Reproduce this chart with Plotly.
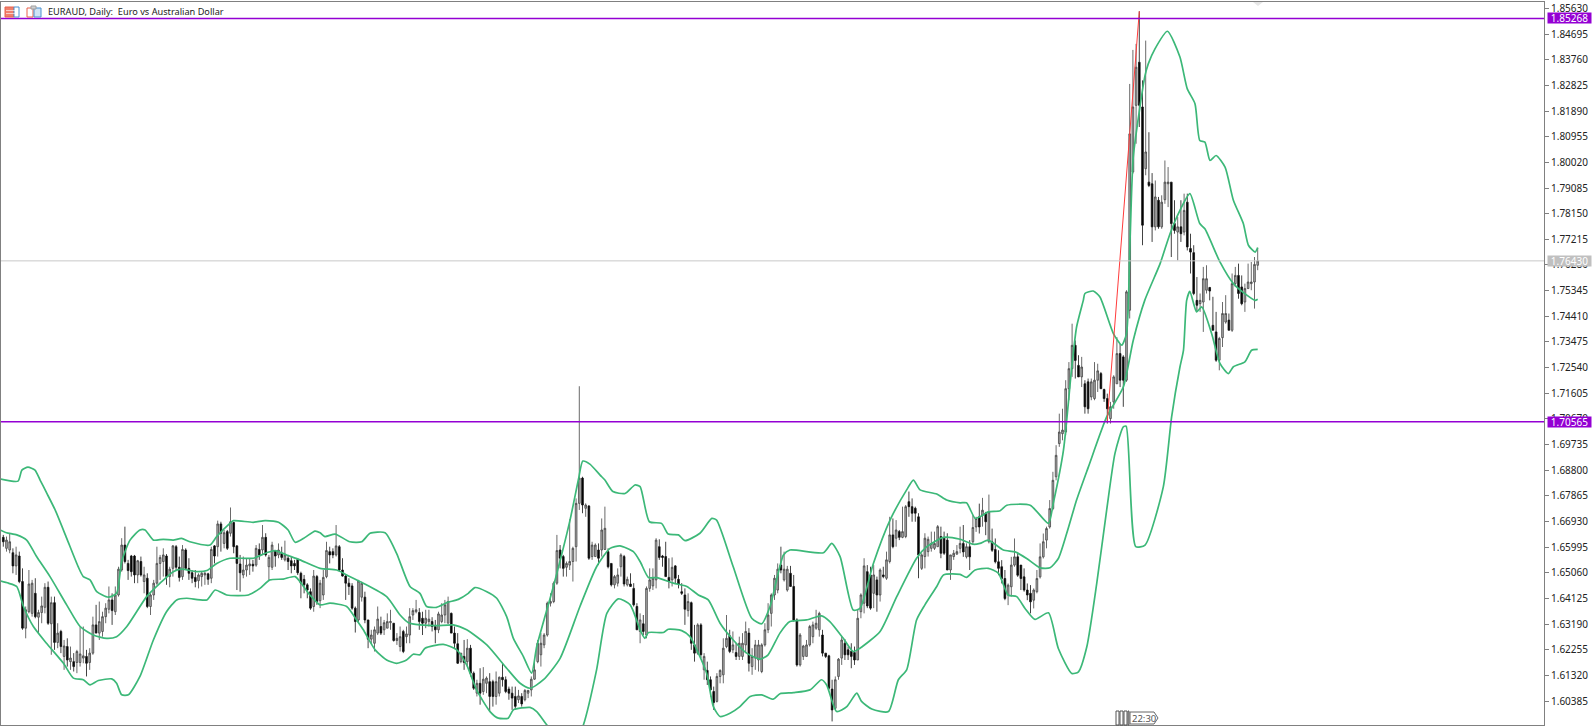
import plotly.graph_objects as go

# EURAUD daily bars, oldest first
open_ = [
    1.6635,1.6595,1.6589,1.6579,1.6531,1.6567,1.6474,1.6304,1.6364,1.6358,
    1.6431,1.6344,1.6361,1.6380,1.6453,1.6320,1.6397,1.6252,1.6292,1.6201,
    1.6237,1.6182,1.6182,1.6179,1.6179,1.6195,1.6201,1.6179,1.6213,1.6316,
    1.6286,1.6292,1.6346,1.6373,1.6407,1.6364,1.6425,1.6516,1.6607,1.6540,
    1.6567,1.6567,1.6498,1.6547,1.6474,1.6486,1.6383,1.6425,1.6468,1.6540,
    1.6547,1.6567,1.6492,1.6522,1.6601,1.6526,1.6492,1.6589,1.6522,1.6506,
    1.6489,1.6477,1.6492,1.6498,1.6502,1.6486,1.6604,1.6601,1.6684,1.6613,
    1.6656,1.6650,1.6689,1.6604,1.6538,1.6498,1.6516,1.6531,1.6537,1.6534,
    1.6591,1.6589,1.6635,1.6528,1.6526,1.6587,1.6571,1.6577,1.6553,1.6559,
    1.6550,1.6540,1.6555,1.6504,1.6482,1.6462,1.6437,1.6383,1.6492,1.6404,
    1.6425,1.6492,1.6583,1.6583,1.6571,1.6601,1.6516,1.6494,1.6468,1.6458,
    1.6377,1.6334,1.6417,1.6417,1.6334,1.6264,1.6249,1.6286,1.6310,1.6298,
    1.6304,1.6324,1.6322,1.6259,1.6237,1.6292,1.6273,1.6279,1.6352,1.6364,
    1.6361,1.6340,1.6322,1.6328,1.6328,1.6310,1.6298,1.6328,1.6352,1.6322,
    1.6358,1.6286,1.6247,1.6182,1.6201,1.6182,1.6231,1.6140,1.6067,1.6103,
    1.6073,1.6103,1.6109,1.6109,1.6055,1.6067,1.6125,1.6116,1.6082,1.6067,
    1.6055,1.6043,1.6055,1.6043,1.6067,1.6079,1.6118,1.6182,1.6207,1.6243,
    1.6279,1.6395,1.6401,1.6468,1.6589,1.6565,1.6526,1.6534,1.6547,1.6601,
    1.6759,1.6851,1.6741,1.6749,1.6565,1.6565,1.6589,1.6589,1.6591,1.6583,
    1.6540,1.6462,1.6468,1.6528,1.6565,1.6462,1.6465,1.6449,1.6383,1.6292,
    1.6320,1.6279,1.6449,1.6458,1.6480,1.6601,1.6567,1.6565,1.6489,1.6480,
    1.6531,1.6482,1.6437,1.6425,1.6368,1.6397,1.6243,1.6213,1.6316,1.6152,
    1.6150,1.6116,1.6073,1.6037,1.6128,1.6134,1.6237,1.6276,1.6225,1.6215,
    1.6201,1.6201,1.6243,1.6286,1.6164,1.6195,1.6188,1.6146,1.6243,1.6298,
    1.6358,1.6425,1.6443,1.6534,1.6480,1.6443,1.6504,1.6456,1.6334,1.6170,
    1.6201,1.6201,1.6243,1.6273,1.6304,1.6298,1.6279,1.6213,1.6203,1.6082,
    1.6012,1.6128,1.6195,1.6249,1.6225,1.6219,1.6215,1.6188,1.6364,1.6395,
    1.6510,1.6498,1.6431,1.6480,1.6425,1.6498,1.6486,1.6547,1.6644,1.6632,
    1.6656,1.6635,1.6638,1.6765,1.6747,1.6741,1.6710,1.6522,1.6565,1.6583,
    1.6595,1.6595,1.6601,1.6638,1.6632,1.6625,1.6516,1.6565,1.6574,1.6595,
    1.6613,1.6564,1.6601,1.6619,1.6673,1.6710,1.6716,1.6722,1.6619,1.6619,
    1.6591,1.6546,1.6528,1.6485,1.6425,1.6455,1.6534,1.6564,1.6534,1.6491,
    1.6443,1.6431,1.6406,1.6437,1.6491,1.6564,1.6625,1.6673,1.6740,1.6856,
    1.6977,1.7013,1.7019,1.7177,1.7250,1.7335,1.7262,1.7220,1.7195,1.7202,
    1.7147,1.7141,1.7208,1.7232,1.7174,1.7141,1.7068,1.7129,1.7195,1.7305,
    1.7293,1.7208,1.7463,1.7967,1.8210,1.8367,1.8204,1.7979,1.7930,1.7924,
    1.7767,1.7864,1.7767,1.7866,1.7924,1.7930,1.7779,1.7748,1.7767,1.7748,
    1.7857,1.7688,1.7673,1.7499,1.7487,1.7493,1.7536,1.7546,1.7408,1.7384,
    1.7281,1.7363,1.7420,1.7427,1.7390,1.7560,1.7590,1.7548,1.7493,1.7542,
    1.7560,1.7566,1.7627,
]
high = [
    1.6644,1.6638,1.6650,1.6595,1.6601,1.6583,1.6522,1.6383,1.6516,1.6480,
    1.6486,1.6371,1.6419,1.6468,1.6474,1.6419,1.6419,1.6322,1.6298,1.6261,
    1.6267,1.6237,1.6213,1.6225,1.6310,1.6310,1.6225,1.6231,1.6346,1.6389,
    1.6401,1.6364,1.6395,1.6456,1.6431,1.6456,1.6528,1.6632,1.6674,1.6553,
    1.6571,1.6571,1.6553,1.6565,1.6528,1.6504,1.6431,1.6480,1.6601,1.6571,
    1.6595,1.6574,1.6528,1.6607,1.6607,1.6565,1.6607,1.6595,1.6559,1.6516,
    1.6516,1.6504,1.6510,1.6510,1.6506,1.6601,1.6607,1.6696,1.6692,1.6662,
    1.6662,1.6744,1.6692,1.6607,1.6571,1.6565,1.6559,1.6559,1.6553,1.6607,
    1.6613,1.6680,1.6650,1.6571,1.6619,1.6589,1.6613,1.6601,1.6623,1.6571,
    1.6565,1.6553,1.6559,1.6510,1.6498,1.6468,1.6449,1.6516,1.6498,1.6480,
    1.6516,1.6619,1.6601,1.6595,1.6680,1.6607,1.6559,1.6498,1.6486,1.6468,
    1.6383,1.6480,1.6474,1.6437,1.6334,1.6298,1.6310,1.6383,1.6346,1.6334,
    1.6358,1.6371,1.6322,1.6286,1.6310,1.6298,1.6310,1.6377,1.6377,1.6407,
    1.6377,1.6364,1.6371,1.6371,1.6344,1.6334,1.6364,1.6395,1.6407,1.6419,
    1.6361,1.6310,1.6286,1.6213,1.6261,1.6264,1.6243,1.6146,1.6116,1.6158,
    1.6162,1.6128,1.6140,1.6116,1.6146,1.6128,1.6176,1.6128,1.6091,1.6091,
    1.6091,1.6079,1.6067,1.6082,1.6079,1.6128,1.6182,1.6261,1.6286,1.6286,
    1.6401,1.6431,1.6474,1.6644,1.6607,1.6571,1.6547,1.6701,1.6601,1.6777,
    1.7186,1.6856,1.6759,1.6753,1.6619,1.6613,1.6613,1.6704,1.6747,1.6595,
    1.6540,1.6498,1.6522,1.6577,1.6571,1.6492,1.6504,1.6468,1.6395,1.6358,
    1.6352,1.6456,1.6522,1.6522,1.6632,1.6628,1.6571,1.6619,1.6559,1.6562,
    1.6534,1.6498,1.6468,1.6449,1.6431,1.6401,1.6316,1.6322,1.6322,1.6213,
    1.6182,1.6128,1.6091,1.6140,1.6154,1.6267,1.6352,1.6298,1.6292,1.6249,
    1.6273,1.6286,1.6328,1.6304,1.6231,1.6261,1.6261,1.6249,1.6322,1.6395,
    1.6431,1.6498,1.6540,1.6601,1.6583,1.6531,1.6531,1.6498,1.6340,1.6286,
    1.6243,1.6261,1.6316,1.6328,1.6371,1.6364,1.6298,1.6213,1.6207,1.6116,
    1.6128,1.6195,1.6273,1.6264,1.6237,1.6249,1.6237,1.6371,1.6431,1.6559,
    1.6534,1.6528,1.6534,1.6492,1.6522,1.6528,1.6583,1.6710,1.6704,1.6698,
    1.6662,1.6747,1.6753,1.6802,1.6777,1.6747,1.6723,1.6577,1.6650,1.6638,
    1.6656,1.6656,1.6680,1.6674,1.6656,1.6650,1.6571,1.6589,1.6607,1.6674,
    1.6680,1.6613,1.6625,1.6716,1.6710,1.6758,1.6779,1.6728,1.6791,1.6667,
    1.6631,1.6588,1.6552,1.6516,1.6467,1.6564,1.6631,1.6576,1.6534,1.6522,
    1.6467,1.6461,1.6449,1.6516,1.6613,1.6649,1.6674,1.6771,1.6874,1.6971,
    1.7086,1.7104,1.7208,1.7274,1.7414,1.7353,1.7299,1.7293,1.7208,1.7214,
    1.7214,1.7274,1.7268,1.7238,1.7177,1.7159,1.7129,1.7226,1.7365,1.7341,
    1.7299,1.7536,1.8288,1.8412,1.8434,1.8553,1.8301,1.8446,1.8112,1.7963,
    1.7936,1.7876,1.7882,1.8009,1.7985,1.7930,1.7864,1.7803,1.7864,1.7888,
    1.7888,1.7742,1.7700,1.7584,1.7524,1.7621,1.7627,1.7548,1.7512,1.7457,
    1.7366,1.7493,1.7518,1.7451,1.7597,1.7621,1.7633,1.7590,1.7560,1.7633,
    1.7639,1.7657,1.7691,
]
low = [
    1.6601,1.6583,1.6577,1.6504,1.6498,1.6468,1.6298,1.6267,1.6358,1.6346,
    1.6340,1.6286,1.6322,1.6358,1.6316,1.6207,1.6225,1.6231,1.6213,1.6152,
    1.6164,1.6152,1.6146,1.6140,1.6164,1.6176,1.6128,1.6152,1.6207,1.6286,
    1.6261,1.6273,1.6322,1.6358,1.6316,1.6352,1.6419,1.6510,1.6540,1.6480,
    1.6492,1.6468,1.6468,1.6492,1.6431,1.6377,1.6352,1.6407,1.6462,1.6480,
    1.6492,1.6462,1.6453,1.6492,1.6516,1.6474,1.6480,1.6516,1.6480,1.6468,
    1.6453,1.6449,1.6456,1.6462,1.6462,1.6468,1.6540,1.6565,1.6583,1.6595,
    1.6589,1.6638,1.6577,1.6443,1.6437,1.6486,1.6492,1.6498,1.6510,1.6528,
    1.6553,1.6571,1.6565,1.6480,1.6516,1.6528,1.6559,1.6553,1.6547,1.6516,
    1.6504,1.6516,1.6498,1.6413,1.6431,1.6413,1.6371,1.6364,1.6389,1.6377,
    1.6407,1.6486,1.6540,1.6559,1.6565,1.6510,1.6492,1.6407,1.6425,1.6371,
    1.6288,1.6322,1.6401,1.6322,1.6231,1.6249,1.6219,1.6279,1.6279,1.6279,
    1.6304,1.6298,1.6255,1.6243,1.6219,1.6213,1.6249,1.6249,1.6334,1.6358,
    1.6298,1.6279,1.6304,1.6310,1.6292,1.6249,1.6286,1.6322,1.6322,1.6322,
    1.6286,1.6231,1.6174,1.6176,1.6152,1.6164,1.6128,1.6079,1.6055,1.6025,
    1.6061,1.6067,1.6000,1.6018,1.6025,1.6055,1.6091,1.6067,1.6043,1.6006,
    1.6006,1.6031,1.6018,1.6037,1.6049,1.6055,1.6116,1.6176,1.6164,1.6231,
    1.6273,1.6383,1.6395,1.6462,1.6522,1.6492,1.6492,1.6516,1.6474,1.6547,
    1.6735,1.6723,1.6710,1.6553,1.6553,1.6565,1.6534,1.6565,1.6589,1.6522,
    1.6456,1.6449,1.6456,1.6492,1.6456,1.6456,1.6456,1.6383,1.6298,1.6249,
    1.6279,1.6267,1.6437,1.6443,1.6449,1.6553,1.6528,1.6492,1.6449,1.6456,
    1.6468,1.6449,1.6425,1.6316,1.6346,1.6225,1.6182,1.6207,1.6195,1.6116,
    1.6097,1.6055,1.6006,1.6033,1.6103,1.6103,1.6231,1.6213,1.6213,1.6188,
    1.6188,1.6188,1.6213,1.6146,1.6134,1.6152,1.6146,1.6140,1.6237,1.6286,
    1.6310,1.6407,1.6431,1.6504,1.6474,1.6437,1.6456,1.6328,1.6164,1.6164,
    1.6188,1.6201,1.6237,1.6249,1.6298,1.6273,1.6201,1.6195,1.6079,1.5964,
    1.6006,1.6116,1.6170,1.6188,1.6188,1.6158,1.6170,1.6188,1.6340,1.6358,
    1.6377,1.6371,1.6377,1.6364,1.6401,1.6486,1.6480,1.6540,1.6595,1.6601,
    1.6625,1.6632,1.6632,1.6710,1.6692,1.6692,1.6486,1.6516,1.6522,1.6565,
    1.6583,1.6589,1.6601,1.6559,1.6571,1.6516,1.6480,1.6553,1.6571,1.6577,
    1.6564,1.6558,1.6516,1.6607,1.6655,1.6649,1.6674,1.6643,1.6613,1.6582,
    1.6540,1.6497,1.6467,1.6406,1.6388,1.6419,1.6528,1.6491,1.6443,1.6437,
    1.6406,1.6358,1.6376,1.6431,1.6485,1.6558,1.6595,1.6667,1.6734,1.6843,
    1.6965,1.6989,1.7007,1.7135,1.7220,1.7214,1.7220,1.7183,1.7086,1.7086,
    1.7135,1.7135,1.7165,1.7177,1.7129,1.7050,1.7050,1.7104,1.7195,1.7183,
    1.7111,1.7202,1.7433,1.7961,1.8070,1.8131,1.7700,1.7955,1.7912,1.7712,
    1.7754,1.7760,1.7760,1.7851,1.7839,1.7657,1.7742,1.7645,1.7712,1.7736,
    1.7681,1.7597,1.7518,1.7457,1.7457,1.7384,1.7524,1.7499,1.7390,1.7275,
    1.7244,1.7329,1.7414,1.7390,1.7384,1.7548,1.7505,1.7481,1.7457,1.7542,
    1.7536,1.7469,1.7609,
]
close = [
    1.6619,1.6625,1.6619,1.6531,1.6571,1.6474,1.6304,1.6371,1.6465,1.6468,
    1.6346,1.6361,1.6385,1.6453,1.6322,1.6397,1.6252,1.6286,1.6237,1.6239,
    1.6188,1.6195,1.6164,1.6219,1.6210,1.6203,1.6176,1.6213,1.6316,1.6286,
    1.6328,1.6346,1.6377,1.6407,1.6368,1.6425,1.6519,1.6607,1.6547,1.6514,
    1.6510,1.6498,1.6550,1.6498,1.6498,1.6383,1.6425,1.6468,1.6540,1.6562,
    1.6571,1.6492,1.6519,1.6604,1.6526,1.6489,1.6591,1.6522,1.6504,1.6486,
    1.6474,1.6498,1.6504,1.6504,1.6482,1.6591,1.6567,1.6684,1.6650,1.6652,
    1.6595,1.6692,1.6601,1.6540,1.6506,1.6516,1.6534,1.6538,1.6531,1.6595,
    1.6571,1.6635,1.6571,1.6562,1.6607,1.6567,1.6589,1.6562,1.6571,1.6547,
    1.6531,1.6531,1.6506,1.6468,1.6462,1.6443,1.6377,1.6494,1.6401,1.6468,
    1.6489,1.6587,1.6571,1.6571,1.6604,1.6516,1.6494,1.6468,1.6456,1.6377,
    1.6328,1.6476,1.6468,1.6334,1.6264,1.6279,1.6298,1.6337,1.6286,1.6324,
    1.6328,1.6328,1.6259,1.6267,1.6273,1.6219,1.6283,1.6346,1.6368,1.6371,
    1.6328,1.6322,1.6340,1.6337,1.6310,1.6298,1.6356,1.6352,1.6389,1.6401,
    1.6286,1.6249,1.6176,1.6213,1.6179,1.6231,1.6140,1.6085,1.6103,1.6067,
    1.6118,1.6122,1.6055,1.6055,1.6109,1.6125,1.6116,1.6073,1.6067,1.6049,
    1.6019,1.6057,1.6028,1.6077,1.6077,1.6118,1.6152,1.6249,1.6249,1.6279,
    1.6395,1.6401,1.6468,1.6587,1.6559,1.6522,1.6540,1.6547,1.6595,1.6759,
    1.6851,1.6753,1.6753,1.6559,1.6607,1.6607,1.6559,1.6662,1.6668,1.6528,
    1.6462,1.6492,1.6498,1.6571,1.6465,1.6482,1.6456,1.6389,1.6298,1.6334,
    1.6292,1.6449,1.6480,1.6486,1.6625,1.6562,1.6562,1.6492,1.6474,1.6526,
    1.6486,1.6465,1.6431,1.6373,1.6401,1.6249,1.6213,1.6316,1.6207,1.6201,
    1.6116,1.6079,1.6033,1.6128,1.6150,1.6231,1.6267,1.6219,1.6243,1.6201,
    1.6249,1.6249,1.6292,1.6176,1.6201,1.6243,1.6243,1.6243,1.6298,1.6352,
    1.6425,1.6486,1.6519,1.6516,1.6519,1.6519,1.6456,1.6334,1.6170,1.6279,
    1.6239,1.6243,1.6310,1.6316,1.6322,1.6358,1.6213,1.6201,1.6085,1.6006,
    1.6116,1.6191,1.6261,1.6207,1.6207,1.6201,1.6188,1.6340,1.6425,1.6531,
    1.6385,1.6377,1.6498,1.6425,1.6516,1.6492,1.6553,1.6644,1.6601,1.6662,
    1.6635,1.6656,1.6747,1.6747,1.6723,1.6723,1.6571,1.6571,1.6632,1.6628,
    1.6613,1.6613,1.6674,1.6577,1.6577,1.6516,1.6571,1.6577,1.6583,1.6613,
    1.6582,1.6601,1.6564,1.6671,1.6704,1.6673,1.6734,1.6692,1.6728,1.6588,
    1.6546,1.6522,1.6485,1.6412,1.6461,1.6534,1.6564,1.6497,1.6485,1.6443,
    1.6425,1.6400,1.6443,1.6485,1.6564,1.6619,1.6667,1.6740,1.6843,1.6934,
    1.7019,1.7026,1.7177,1.7250,1.7335,1.7280,1.7220,1.7256,1.7111,1.7104,
    1.7202,1.7208,1.7242,1.7177,1.7141,1.7104,1.7111,1.7220,1.7305,1.7208,
    1.7208,1.7530,1.8106,1.8204,1.8349,1.8210,1.7773,1.8040,1.7918,1.7767,
    1.7876,1.7767,1.7857,1.7930,1.7930,1.7779,1.7754,1.7767,1.7742,1.7827,
    1.7694,1.7675,1.7524,1.7481,1.7499,1.7578,1.7578,1.7533,1.7390,1.7281,
    1.7360,1.7451,1.7451,1.7390,1.7560,1.7590,1.7524,1.7487,1.7542,1.7566,
    1.7566,1.7630,1.7643,
]
bars = list(range(len(close)))

# Bollinger bands, read at turning points
upper_x = [-1,4.6,5.8,7.7,9.9,11.5,13.5,16.2,19.8,23.4,25,27.1,29.2,32.8,35.4,37,39.6,42.7,44.3,46.9,50,53.1,55.7,58.3,64.6,66.7,70.8,71.9,78.1,81.8,86,89,91.2,94.3,97.4,
           99,100.5,103.7,108.3,112,114.6,119.3,122.9,127.1,130.2,132.3,135.4,138.6,142.2,145.3,147.4,151.1,154.2,157.3,159.4,162.5,165.1,166.7,171.9,177.1,179.7,181.1,183.3,186.5,188,190.5,194.3,197.4,199,
           201.9,205.7,207.8,211,213,217.7,221.4,222.9,228.1,233.9,237,239.6,243.8,245.8,256.3,258.9,261.5,265.6,267.7,271.9,277.1,282.3,284.4,286.5,291.7,294.8,299,
           301,303.7,305.2,307.8,311.5,313.6,320.9,326.6,328.1,331.3,333.9,335.4,337.5,338,340.6,342.7,346.9,349.5,351,352.1,353.1,355.2,356.8,357.8,359.9,363.8,367.7,370,372.4,373.9,375.5,377.1,379,381.8,384.4,387.5,389.1,391.2,392]
upper_y = [1.6848,1.6840,1.6880,1.6891,1.6880,1.6844,1.6798,1.6735,1.6632,1.6528,1.6492,1.6480,1.6437,1.6417,1.6431,1.6547,1.6625,1.6662,1.6662,1.6625,1.6628,1.6625,1.6631,1.6619,1.6607,1.6638,1.6686,1.6696,1.6690,1.6696,1.6690,1.6662,1.6617,1.6635,1.6658,
           1.6652,1.6638,1.6647,1.6619,1.6619,1.6650,1.6652,1.6577,1.6456,1.6431,1.6383,1.6380,1.6397,1.6409,1.6431,1.6452,1.6437,1.6413,1.6346,1.6267,1.6201,1.6140,1.6237,1.6456,1.6698,1.6844,1.6913,1.6902,1.6862,1.6844,1.6802,1.6795,1.6826,1.6820,
           1.6692,1.6686,1.6647,1.6644,1.6623,1.6650,1.6704,1.6698,1.6528,1.6340,1.6320,1.6383,1.6571,1.6589,1.6579,1.6613,1.6565,1.6370,1.6376,1.6540,1.6698,1.6808,1.6844,1.6808,1.6793,1.6771,1.6761,
           1.6761,1.6704,1.6710,1.6728,1.6732,1.6752,1.6752,1.6686,1.6758,1.6953,1.7256,1.7402,1.7499,1.7524,1.7533,1.7511,1.7378,1.7336,1.7378,1.7718,1.8021,1.8204,1.8319,1.8361,1.8416,1.8480,1.8386,1.8270,1.8216,1.8082,1.8076,1.8009,1.8027,1.7985,1.7864,1.7779,1.7700,1.7675,1.7691]
middle_x = [-1,1,4.2,7.3,10.4,14.6,19.8,24,28.1,32.3,35.4,38.6,44.8,49,53.1,55.7,60.4,63.6,66.7,70.8,78.1,82.3,84.9,88.5,92.7,99,
            104.2,107.3,112.5,119.8,124,126.6,130.2,135.4,140.6,144.8,151.1,157.3,161.5,164.6,168.8,174,180.2,185.4,189.6,192.7,196.9,199,
            201.6,204.2,209.4,213.6,217.2,220.3,224,228.1,232.3,236.5,239,242.7,245.8,251,255.7,258.3,262.5,265.6,267.7,274,279.2,285.4,288.6,293.8,299,
            303.1,305.2,307.8,312.5,316.2,319.8,324,327.1,329.7,332.3,335.4,339.1,344.8,350,353.1,356.7,361.5,364.6,367.7,370.8,373.9,375.5,380.2,384.4,388.6,391.2,392]
middle_y = [1.6662,1.6652,1.6644,1.6625,1.6565,1.6492,1.6389,1.6310,1.6279,1.6267,1.6273,1.6310,1.6419,1.6468,1.6510,1.6519,1.6510,1.6514,1.6540,1.6559,1.6559,1.6579,1.6587,1.6571,1.6553,1.6522,
            1.6516,1.6498,1.6468,1.6419,1.6352,1.6324,1.6316,1.6313,1.6316,1.6298,1.6243,1.6158,1.6103,1.6085,1.6116,1.6194,1.6383,1.6528,1.6595,1.6604,1.6583,1.6547,
            1.6489,1.6488,1.6468,1.6456,1.6425,1.6407,1.6322,1.6261,1.6213,1.6191,1.6207,1.6286,1.6328,1.6334,1.6349,1.6328,1.6267,1.6219,1.6231,1.6292,1.6419,1.6559,1.6601,1.6635,1.6628,
            1.6610,1.6613,1.6625,1.6589,1.6582,1.6558,1.6524,1.6524,1.6558,1.6649,1.6771,1.6892,1.7074,1.7183,1.7353,1.7499,1.7633,1.7742,1.7827,1.7888,1.7779,1.7760,1.7639,1.7560,1.7518,1.7499,1.7503]
lower_x = [-1,1.6,4.2,6.3,9.4,13.5,18.8,21.9,25,27.1,29.7,33.9,35.4,37,39.1,42.7,46.9,51,54.2,57.3,63.6,66.2,69.8,76.6,80.2,83.3,87.5,91.2,95.8,99,
           102.1,107.3,110.4,112.5,116.2,119.8,122.9,126,128.1,130.2,131.8,137.5,141.7,144.8,147.9,152.1,154.7,157.8,159.4,164.6,166.7,169.8,172.9,176,179.2,181.3,185.4,188.6,192.2,195.9,199,
           200.5,201.6,206.3,207.8,212,214.6,217.2,219.8,221.9,224,227.1,230.2,233.4,237,240.6,242.7,246.9,252.1,255.7,257.3,260.4,263.6,266.7,268.2,271.4,276.6,279.7,282.3,285.4,288,291.7,293.8,299,
           301,303.7,307.8,311,314,316.7,319.3,322.4,326.6,329.7,333.9,336,338.6,341.7,344.8,347.4,350,350.9,353.9,356.8,362.5,365.1,367.7,368.8,369.8,370.8,372.9,374.5,377.6,380.2,382.8,384.4,388,390.1,392]
lower_y = [1.6476,1.6468,1.6456,1.6383,1.6310,1.6249,1.6176,1.6122,1.6116,1.6097,1.6113,1.6119,1.6103,1.6061,1.6061,1.6128,1.6261,1.6364,1.6407,1.6413,1.6407,1.6443,1.6425,1.6425,1.6449,1.6480,1.6483,1.6492,1.6425,1.6389,
           1.6395,1.6383,1.6334,1.6298,1.6225,1.6188,1.6176,1.6188,1.6209,1.6207,1.6231,1.6245,1.6225,1.6170,1.6079,1.6000,1.5976,1.5976,1.6006,1.6015,1.6000,1.5952,1.5909,1.5885,1.5897,1.5952,1.6152,1.6358,1.6411,1.6389,1.6298,
           1.6267,1.6288,1.6288,1.6300,1.6295,1.6273,1.6213,1.6140,1.6018,1.5982,1.5994,1.6018,1.6055,1.6061,1.6045,1.6065,1.6069,1.6079,1.6116,1.6097,1.6000,1.6018,1.6067,1.6037,1.6009,1.6000,1.6116,1.6152,1.6334,1.6389,1.6456,1.6498,1.6500,
           1.6489,1.6516,1.6522,1.6504,1.6425,1.6419,1.6376,1.6336,1.6360,1.6230,1.6139,1.6145,1.6236,1.6467,1.6734,1.6941,1.7038,1.7040,1.6601,1.6607,1.6819,1.7074,1.7256,1.7317,1.7499,1.7532,1.7457,1.7475,1.7378,1.7269,1.7232,1.7257,1.7275,1.7317,1.7320]

# Price axis, horizontal levels and the drawn trend line
tick_vals = [1.60385,1.61320,1.62255,1.63190,1.64125,1.65060,1.65995,1.66930,1.67865,1.68800,
             1.69735,1.70670,1.71605,1.72540,1.73475,1.74410,1.75345,1.76280,1.77215,1.78150,
             1.79085,1.80020,1.80955,1.81890,1.82825,1.83760,1.84695,1.85630]
tick_text = [f"{v:.5f}" for v in tick_vals]
level_high = 1.85268
level_low = 1.70565
last_price = 1.76430
trend_x = [345, 355]
trend_y = [1.7060, 1.8553]

W, H = 1593, 727
GREEN = "#3CB878"
VIOLET = "#9400D3"
FONT = "Noto Sans"
LEFT, RIGHT, TOP, BOTTOM = 1, 1544, 2, 725


def px(x):
    return (x - LEFT) / (RIGHT - LEFT)


def py(y):
    return 1 - (y - TOP) / (BOTTOM - TOP)


def box(x0, y0, x1, y1, line=None, fill=None):
    return dict(type="rect", xref="paper", yref="paper", x0=px(x0), y0=py(y0), x1=px(x1), y1=py(y1),
                line=dict(color=line or "rgba(0,0,0,0)", width=1), fillcolor=fill or "rgba(0,0,0,0)")


def price_label(text, y, color):
    return dict(xref="paper", yref="y", x=px(1547), y=y, xanchor="left", yanchor="middle", text=text,
                showarrow=False, bgcolor=color, width=43, height=10, borderpad=0,
                font=dict(family=FONT, size=10, color="white"))


fig = go.Figure()
fig.add_trace(go.Candlestick(
    x=bars, open=open_, high=high, low=low, close=close,
    increasing=dict(line=dict(color="#444444", width=0.8), fillcolor="#b0b0b0"),
    decreasing=dict(line=dict(color="#111111", width=0.8), fillcolor="#000000"),
    whiskerwidth=0,
))
for xs, ys in [(upper_x, upper_y), (middle_x, middle_y), (lower_x, lower_y)]:
    fig.add_trace(go.Scatter(x=xs, y=ys, mode="lines", hoverinfo="skip",
                             line=dict(color=GREEN, width=1.7, shape="spline", smoothing=0.6)))
fig.add_trace(go.Scatter(x=trend_x, y=trend_y, mode="lines", line=dict(color="#ff3b3b", width=1), hoverinfo="skip"))

shapes = [
    dict(type="line", xref="paper", yref="y", x0=0, x1=1, y0=last_price, y1=last_price, line=dict(color="#c8c8c8", width=1)),
    dict(type="line", xref="paper", yref="y", x0=0, x1=1, y0=level_high, y1=level_high, line=dict(color=VIOLET, width=1.6)),
    dict(type="line", xref="paper", yref="y", x0=0, x1=1, y0=level_low, y1=level_low, line=dict(color=VIOLET, width=1.6)),
    # toolbar-style icons next to the title
    box(5, 7, 14, 17, fill="#f0806c", line="#e8604c"),
    box(14, 7, 19, 17, fill="#ffffff", line="#4a90d0"),
    box(6, 10, 18, 10.6, fill="#ffffff"),
    box(6, 13, 18, 13.6, fill="#ffffff"),
    box(27, 8, 33, 17, fill="#ffffff", line="#e8604c"),
    box(34, 8, 41, 17, fill="#cfe4f6", line="#4a90d0"),
    box(31, 6, 36, 9, fill="#d0d0d0", line="#a0a0a0"),
    # small bar marker at the bottom edge
    box(1116, 711, 1119, 725, line="#555555"),
    box(1120, 711, 1123, 725, line="#555555"),
    box(1124, 711, 1127, 725, line="#555555"),
    box(1128, 711, 1129, 725, line="#555555"),
    dict(type="path", xref="paper", yref="paper",
         path=f"M {px(1130)} {py(712)} L {px(1154)} {py(712)} L {px(1158)} {py(718)} L {px(1154)} {py(724)} L {px(1130)} {py(724)} Z",
         line=dict(color="#666666", width=1), fillcolor="#ffffff"),
    dict(type="path", xref="paper", yref="paper",
         path=f"M {px(1253)} {py(2)} L {px(1263)} {py(2)} L {px(1258)} {py(6)} Z",
         line=dict(color="#e6e6e6", width=0), fillcolor="#e6e6e6"),
]

annotations = [
    dict(xref="paper", yref="paper", x=px(46), y=py(12), xanchor="left", yanchor="middle", showarrow=False,
         text="EURAUD, Daily:  Euro vs Australian Dollar", font=dict(family=FONT, size=9.2, color="#222222")),
    dict(xref="paper", yref="paper", x=px(1131), y=py(718), xanchor="left", yanchor="middle", showarrow=False,
         text="22:30", borderpad=0, font=dict(family=FONT, size=9.5, color="#555555")),
    price_label(f"{level_high:.5f}", level_high, VIOLET),
    price_label(f"{level_low:.5f}", level_low, VIOLET),
    price_label(f"{last_price:.5f}", last_price, "#c0c0c0"),
]

fig.update_layout(
    width=W, height=H,
    margin=dict(l=LEFT, r=W - RIGHT, t=TOP, b=H - BOTTOM, autoexpand=False),
    paper_bgcolor="white", plot_bgcolor="white",
    showlegend=False, boxgap=0.25,
    shapes=shapes, annotations=annotations,
)
fig.update_xaxes(range=[-0.72, 481.47], rangeslider_visible=False, showgrid=False, zeroline=False,
                 showticklabels=False, ticks="", showline=True, mirror=True, linecolor="#808080", linewidth=1)
fig.update_yaxes(range=[1.5951, 1.85867], side="right", showgrid=False, zeroline=False,
                 tickmode="array", tickvals=tick_vals, ticktext=tick_text, ticks="outside", ticklen=4,
                 tickcolor="#808080", tickfont=dict(family=FONT, size=10, color="#222222"),
                 showline=True, mirror=True, linecolor="#808080", linewidth=1)

fig.write_html("out.html", config={"displayModeBar": False}, post_script="document.body.style.margin='0';")
